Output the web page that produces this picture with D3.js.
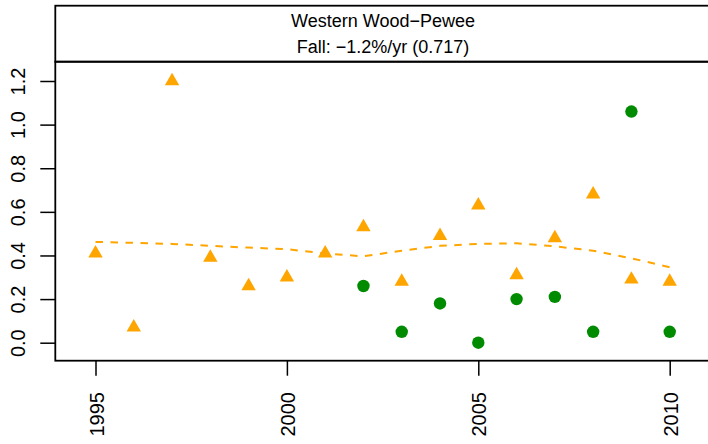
<!DOCTYPE html>
<html>
<head>
<meta charset="utf-8">
<script src="https://cdn.jsdelivr.net/npm/d3@7"></script>
<style>
  body { margin: 0; background: #fff; }
  svg { display: block; font-family: "Liberation Sans", Arial, Helvetica, sans-serif; }
</style>
</head>
<body>
<svg id="chart" width="708" height="444"></svg>
<script>
// data
var years = [1995, 1996, 1997, 1998, 1999, 2000, 2001, 2002, 2003, 2004, 2005, 2006, 2007, 2008, 2009, 2010];
var triValues = [0.41, 0.07, 1.20, 0.39, 0.26, 0.30, 0.41, 0.53, 0.28, 0.49, 0.63, 0.31, 0.48, 0.68, 0.29, 0.28];
var dotYears = [2002, 2003, 2004, 2005, 2006, 2007, 2008, 2009, 2010];
var dotValues = [0.26, 0.05, 0.18, 0.00, 0.20, 0.21, 0.05, 1.06, 0.05];
var trendValues = [0.462, 0.458, 0.453, 0.444, 0.436, 0.429, 0.409, 0.396, 0.422, 0.444, 0.453, 0.456, 0.442, 0.422, 0.387, 0.346];
var xTicks = [1995, 2000, 2005, 2010];
var yTicks = [0.0, 0.2, 0.4, 0.6, 0.8, 1.0, 1.2];
var titleLines = ["Western Wood\u2212Pewee", "Fall: \u22121.2%/yr (0.717)"];

var svg = d3.select("#chart");

// plot box (note: "top" is reserved on window, so use box.*)
var box = { left: 55.3, right: 710.7, top: 61.7, bottom: 360.7, strip: 5.7 };

var x = d3.scaleLinear().domain([1995, 2010]).range([95.5, 669.7]);
var y = d3.scaleLinear().domain([0, 1.2]).range([342.7, 81]);

// strip on top
svg.append("rect")
  .attr("x", box.left).attr("y", box.strip)
  .attr("width", box.right - box.left).attr("height", box.top - box.strip)
  .attr("fill", "none").attr("stroke", "#000").attr("stroke-width", 1.8);

svg.append("g")
  .selectAll("text")
  .data(titleLines)
  .enter()
  .append("text")
  .attr("x", (box.left + box.right) / 2)
  .attr("y", function (d, i) { return 26.7 + i * 26; })
  .attr("text-anchor", "middle")
  .style("font-size", "18px")
  .style("fill", "#000")
  .text(function (d) { return d; });

// plot frame
svg.append("rect")
  .attr("x", box.left).attr("y", box.top)
  .attr("width", box.right - box.left).attr("height", box.bottom - box.top)
  .attr("fill", "none").attr("stroke", "#000").attr("stroke-width", 1.8);

// y axis
var yAxis = d3.axisLeft(y).tickValues(yTicks).tickSize(15).tickFormat(d3.format(".1f"));
var gy = svg.append("g").attr("transform", "translate(" + box.left + ",0)").call(yAxis);
gy.select(".domain").remove();
gy.selectAll(".tick line").attr("stroke-width", 1.5);
gy.selectAll(".tick text")
  .attr("x", null).attr("dy", null)
  .attr("transform", "translate(-30,0) rotate(-90)")
  .attr("text-anchor", "middle")
  .style("font-size", "20px")
  .style("font-family", "Liberation Sans, Arial, sans-serif")
  .style("fill", "#000");

// x axis
var xAxis = d3.axisBottom(x).tickValues(xTicks).tickSize(15).tickFormat(d3.format("d"));
var gx = svg.append("g").attr("transform", "translate(0," + box.bottom + ")").call(xAxis);
gx.select(".domain").remove();
gx.selectAll(".tick line").attr("stroke-width", 1.5);
gx.selectAll(".tick text")
  .attr("y", null).attr("dy", null)
  .attr("transform", "translate(7.5,31.3) rotate(-90)")
  .attr("text-anchor", "end")
  .style("font-size", "20px")
  .style("font-family", "Liberation Sans, Arial, sans-serif")
  .style("fill", "#000");

// dashed trend line
var line = d3.line()
  .x(function (d, i) { return x(years[i]); })
  .y(function (d) { return y(d); });

svg.append("path")
  .datum(trendValues)
  .attr("d", line)
  .attr("fill", "none")
  .attr("stroke", "#FFA500")
  .attr("stroke-width", 2)
  .attr("stroke-dasharray", "7.5,7.5");

// triangles
var tri = d3.symbol().type(d3.symbolTriangle).size(90);
svg.append("g")
  .selectAll("path")
  .data(triValues)
  .enter()
  .append("path")
  .attr("d", tri)
  .attr("transform", function (d, i) { return "translate(" + x(years[i]) + "," + y(d) + ")"; })
  .style("fill", "#FFA500");

// circles
svg.append("g")
  .selectAll("circle")
  .data(dotValues)
  .enter()
  .append("circle")
  .attr("cx", function (d, i) { return x(dotYears[i]); })
  .attr("cy", function (d) { return y(d); })
  .attr("r", 6.2)
  .style("fill", "#008B00");
</script>
</body>
</html>
